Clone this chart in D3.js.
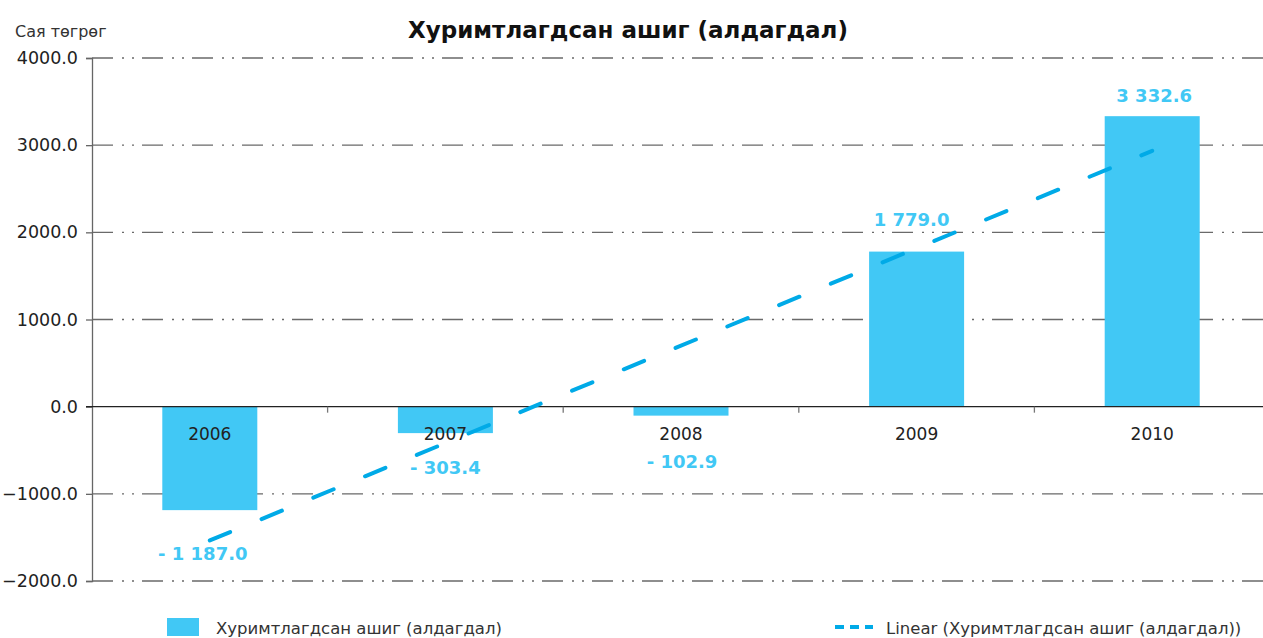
<!DOCTYPE html>
<html>
<head>
<meta charset="utf-8">
<script src="https://cdn.jsdelivr.net/npm/d3@7"></script>
<style>
  body { margin: 0; background: #fff; }
  svg { display: block; font-family: "DejaVu Sans", sans-serif; }
</style>
</head>
<body>
<div id="chart"></div>
<script>
// data
var years = ["2006", "2007", "2008", "2009", "2010"];
var values = [-1187.0, -303.4, -102.9, 1779.0, 3332.6];
var valueLabels = ["- 1 187.0", "- 303.4", "- 102.9", "1 779.0", "3 332.6"];
var yTicks = [-2000, -1000, 0, 1000, 2000, 3000, 4000];
// linear trend (Excel trendline) read at first and last year
var trendYears = ["2006", "2010"];
var trendValues = [-1535.0, 2935.0];

var seriesName = "Хуримтлагдсан ашиг (алдагдал)";
var trendName = "Linear (Хуримтлагдсан ашиг (алдагдал))";
var unitLabel = "Сая төгрөг";

// label offsets from bar end (pixels), hand placed like in the original
var labelDy = [50, 41, 52, -26, -14];
var labelDx = [-7, 0, 1, -5, 2];

var width = 1263, height = 638;
var barColor = "#41c8f5";
var trendColor = "#00aae7";

var svg = d3.select("#chart").append("svg")
    .attr("width", width)
    .attr("height", height);

var x = d3.scaleBand()
    .domain(years)
    .range([92, 1270])
    .paddingInner(0)
    .paddingOuter(0);

var y = d3.scaleLinear()
    .domain([-2000, 4000])
    .range([581, 58]);

var barW = 95;

// title and unit
svg.append("text")
    .attr("x", 628).attr("y", 38)
    .attr("text-anchor", "middle")
    .attr("font-size", 23)
    .attr("font-weight", "bold")
    .attr("fill", "#111")
    .text(seriesName);

svg.append("text")
    .attr("x", 15).attr("y", 37)
    .attr("font-size", 16)
    .attr("fill", "#333")
    .text(unitLabel);

// gridlines (dash dot dot)
svg.append("g")
    .selectAll("line")
    .data(yTicks.filter(function(d){ return d != 0; }))
    .enter()
    .append("line")
    .attr("x1", 92).attr("x2", width)
    .attr("y1", function(d){ return y(d); })
    .attr("y2", function(d){ return y(d); })
    .attr("stroke", "#6a6a6a")
    .attr("stroke-width", 1.3)
    .attr("stroke-dasharray", "21,9,2,8,2,8");

// bars
svg.append("g")
    .selectAll("rect")
    .data(values)
    .enter()
    .append("rect")
    .attr("x", function(d, i){ return x(years[i]) + x.bandwidth()/2 - barW/2; })
    .attr("width", barW)
    .attr("y", function(d){ return Math.min(y(d), y(0)); })
    .attr("height", function(d){ return Math.abs(y(d) - y(0)); })
    .attr("fill", barColor);

// y axis
var yAxis = d3.axisLeft(y)
    .tickValues(yTicks)
    .tickSize(6)
    .tickFormat(function(d){ return d3.format(".1f")(d); });

var gy = svg.append("g")
    .attr("transform", "translate(92,0)")
    .call(yAxis);
gy.select(".domain").attr("stroke", "#666").attr("stroke-width", 1.3);
gy.selectAll(".tick line").attr("stroke", "#666").attr("stroke-width", 1.3);
gy.selectAll(".tick text")
    .attr("x", -14)
    .attr("font-size", 17.5)
    .attr("font-family", "\"DejaVu Sans\", sans-serif")
    .attr("fill", "#222");

// zero line
svg.append("line")
    .attr("x1", 86).attr("x2", width)
    .attr("y1", y(0)).attr("y2", y(0))
    .attr("stroke", "#222")
    .attr("stroke-width", 1.3);

// x ticks at band edges
svg.append("g")
    .selectAll("line")
    .data(years.slice(1))
    .enter()
    .append("line")
    .attr("x1", function(d){ return x(d); })
    .attr("x2", function(d){ return x(d); })
    .attr("y1", y(0)).attr("y2", y(0) + 6)
    .attr("stroke", "#777")
    .attr("stroke-width", 1.3);

// year labels
svg.append("g")
    .selectAll("text")
    .data(years)
    .enter()
    .append("text")
    .attr("x", function(d){ return x(d) + x.bandwidth()/2; })
    .attr("y", y(0) + 33)
    .attr("text-anchor", "middle")
    .attr("font-size", 17)
    .attr("fill", "#222")
    .text(function(d){ return d; });

// trend line
var trendLine = d3.line()
    .x(function(d, i){ return x(trendYears[i]) + x.bandwidth()/2; })
    .y(function(d){ return y(d); });

svg.append("path")
    .datum(trendValues)
    .attr("d", trendLine)
    .attr("fill", "none")
    .attr("stroke", trendColor)
    .attr("stroke-width", 4)
    .attr("stroke-linecap", "round")
    .attr("stroke-dasharray", "22,34");

// value labels
svg.append("g")
    .selectAll("text")
    .data(values)
    .enter()
    .append("text")
    .attr("x", function(d, i){ return x(years[i]) + x.bandwidth()/2 + labelDx[i]; })
    .attr("y", function(d, i){ return y(d) + labelDy[i]; })
    .attr("text-anchor", "middle")
    .attr("font-size", 18)
    .attr("font-weight", "bold")
    .attr("fill", barColor)
    .text(function(d, i){ return valueLabels[i]; });

// legend
var legend = svg.append("g");
legend.append("rect")
    .attr("x", 167).attr("y", 618)
    .attr("width", 32).attr("height", 18)
    .attr("fill", barColor);
legend.append("text")
    .attr("x", 216).attr("y", 634)
    .attr("font-size", 16.5)
    .attr("fill", "#333")
    .text(seriesName);
legend.append("line")
    .attr("x1", 835).attr("x2", 873)
    .attr("y1", 627).attr("y2", 627)
    .attr("stroke", trendColor)
    .attr("stroke-width", 4)
    .attr("stroke-dasharray", "9,6");
legend.append("text")
    .attr("x", 886).attr("y", 634)
    .attr("font-size", 16.5)
    .attr("fill", "#333")
    .text(trendName);
</script>
</body>
</html>
